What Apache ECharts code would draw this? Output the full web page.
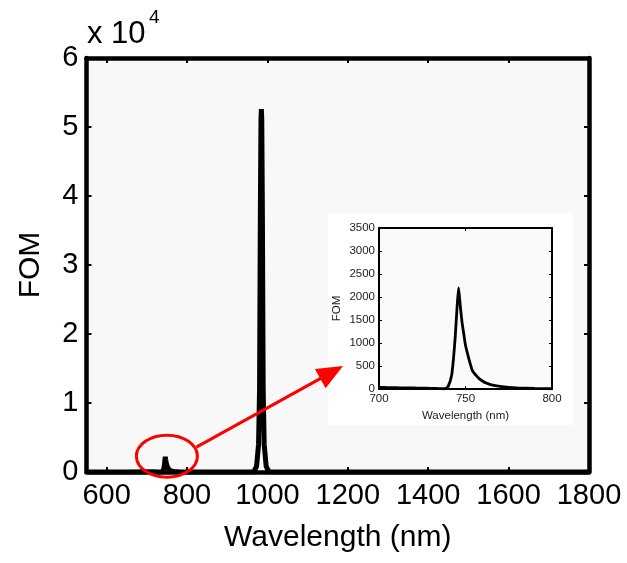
<!DOCTYPE html>
<html><head><meta charset="utf-8">
<script src="https://cdn.jsdelivr.net/npm/echarts@6/dist/echarts.min.js"></script>
<style>html,body{margin:0;padding:0;background:#fff}#c{width:627px;height:563px}</style>
</head><body><div id="c"></div>
<script>
// ---- data ----
const xTickValues = [600, 800, 1000, 1200, 1400, 1600, 1800];
const leftWavelength = [550, 600, 650];
const leftFOM = [0, 0, 0];
const insetWavelength = [700, 705, 710, 715, 720, 725, 730, 735, 738, 740, 742, 743, 744, 745, 746, 747, 748, 749, 750, 752, 754, 756, 758, 760, 762, 765, 770, 775, 780, 790, 800];
const insetFOM = [35, 30, 28, 25, 22, 18, 14, 8, 5, 60, 300, 640, 1100, 1700, 2200, 1800, 1450, 1200, 950, 650, 400, 300, 220, 170, 130, 90, 55, 35, 25, 12, 5];
const peakWavelength = [900, 966, 973, 978, 980.5, 982.5, 984, 985, 986, 987.5, 989.5, 992, 997, 1004, 1100, 1200, 1400, 1600, 1800];
const peakFOM = [0, 0, 800, 4000, 12000, 38000, 51000, 52600, 51000, 38000, 12000, 4000, 800, 0, 0, 0, 0, 0, 0];
const yTickLabels = ['0', '1', '2', '3', '4', '5', '6'];

const mainData = [];
leftWavelength.forEach((w, i) => mainData.push([w, leftFOM[i]]));
insetWavelength.forEach((w, i) => mainData.push([w, insetFOM[i]]));
peakWavelength.forEach((w, i) => mainData.push([w, peakFOM[i]]));
const insetData = insetWavelength.map((w, i) => [w, insetFOM[i]]);

const FONT = 'Liberation Sans, Arial, sans-serif';
const plain = v => String(v);
const chart = echarts.init(document.getElementById('c'), null, {renderer: 'canvas'});

function mainX(pos, showLabel) {
  return {
    type: 'value', gridIndex: 0, position: pos, min: 550, max: 1800,
    axisLine: {show: true, onZero: false, lineStyle: {color: '#000', width: 4.5}},
    axisTick: {show: true, inside: true, length: 5, customValues: xTickValues, lineStyle: {color: '#000', width: 2}},
    axisLabel: {show: showLabel, customValues: xTickValues, formatter: plain, fontSize: 29, color: '#000', fontFamily: FONT, margin: 9},
    splitLine: {show: false},
    name: showLabel ? 'Wavelength (nm)' : '', nameLocation: 'middle', nameGap: 51,
    nameTextStyle: {fontSize: 30, color: '#000', fontFamily: FONT}
  };
}
function mainY(pos, showLabel) {
  return {
    type: 'value', gridIndex: 0, position: pos, min: 0, max: 60000, interval: 10000,
    axisLine: {show: true, onZero: false, lineStyle: {color: '#000', width: 4.5}},
    axisTick: {show: true, inside: true, length: 5, lineStyle: {color: '#000', width: 2}},
    axisLabel: {show: showLabel, fontSize: 29, color: '#000', fontFamily: FONT, margin: 8,
      formatter: v => yTickLabels[Math.round(v / 10000)]},
    splitLine: {show: false},
    name: showLabel ? 'FOM' : '', nameLocation: 'middle', nameGap: 41,
    nameTextStyle: {fontSize: 30, color: '#000', fontFamily: FONT}
  };
}
function insetX(pos, showLabel) {
  return {
    type: 'value', gridIndex: 1, position: pos, min: 700, max: 800, interval: 50, z: 5,
    axisLine: {show: true, onZero: false, lineStyle: {color: '#000', width: 2}},
    axisTick: {show: true, inside: true, length: 3, lineStyle: {color: '#000', width: 1}},
    axisLabel: {show: showLabel, formatter: plain, fontSize: 11.5, color: '#222', fontFamily: FONT, margin: 4},
    splitLine: {show: false},
    name: showLabel ? 'Wavelength (nm)' : '', nameLocation: 'middle', nameGap: 21,
    nameTextStyle: {fontSize: 11.5, color: '#222', fontFamily: FONT}
  };
}
function insetY(pos, showLabel) {
  return {
    type: 'value', gridIndex: 1, position: pos, min: 0, max: 3500, interval: 500, z: 5,
    axisLine: {show: true, onZero: false, lineStyle: {color: '#000', width: 2}},
    axisTick: {show: true, inside: true, length: 3, lineStyle: {color: '#000', width: 1}},
    axisLabel: {show: showLabel, formatter: plain, fontSize: 11.5, color: '#222', fontFamily: FONT, margin: 4},
    splitLine: {show: false},
    name: showLabel ? 'FOM' : '', nameLocation: 'middle', nameGap: 36,
    nameTextStyle: {fontSize: 11.5, color: '#222', fontFamily: FONT}
  };
}

chart.setOption({
  animation: false,
  backgroundColor: '#fff',
  grid: [
    {left: 86.5, top: 58, right: 38, bottom: 91, show: true, backgroundColor: '#f8f8f8', borderWidth: 0, z: 0},
    {left: 379, top: 228, right: 75, bottom: 174, show: true, backgroundColor: '#fafafa', borderWidth: 0, z: 3}
  ],
  xAxis: [mainX('bottom', true), mainX('top', false), insetX('bottom', true), insetX('top', false)],
  yAxis: [mainY('left', true), mainY('right', false), insetY('left', true), insetY('right', false)],
  series: [
    {type: 'line', xAxisIndex: 0, yAxisIndex: 0, data: mainData, showSymbol: false, z: 2,
      lineStyle: {color: '#000', width: 5}, itemStyle: {color: '#000'}},
    {type: 'line', xAxisIndex: 2, yAxisIndex: 2, data: insetData, showSymbol: false, z: 6, smooth: 0.2,
      lineStyle: {color: '#000', width: 2.8}, itemStyle: {color: '#000'}}
  ]
});

// annotations anchored to data / grid positions
const c = chart.convertToPixel({gridIndex: 0}, [750, 2300]);
const insetRect = {x: 328, y: 213, w: 245, h: 212};
const start = [c[0] + 29.5, c[1] - 9];
const tip = [insetRect.x + 15, insetRect.y + 153];
const dx = tip[0] - start[0], dy = tip[1] - start[1];
const L = Math.hypot(dx, dy);
const ux = dx / L, uy = dy / L, px = -uy, py = ux;
const headLen = 26, headHalf = 11;
const bx = tip[0] - ux * headLen, by = tip[1] - uy * headLen;

chart.setOption({
  graphic: [
    {type: 'rect', z: 1, silent: true, shape: {x: insetRect.x, y: insetRect.y, width: insetRect.w, height: insetRect.h}, style: {fill: '#ffffff'}},
    {type: 'ellipse', z: 10, silent: true, shape: {cx: c[0], cy: c[1], rx: 30.5, ry: 21}, style: {fill: null, stroke: '#ff0000', lineWidth: 3}},
    {type: 'line', z: 10, silent: true, shape: {x1: start[0], y1: start[1], x2: bx + ux * 2, y2: by + uy * 2}, style: {stroke: '#ff0000', lineWidth: 3}},
    {type: 'polygon', z: 10, silent: true, shape: {points: [tip, [bx + px * headHalf, by + py * headHalf], [bx - px * headHalf, by - py * headHalf]]}, style: {fill: '#ff0000'}},
    {type: 'text', z: 10, silent: true, x: 87, y: 19, style: {text: 'x 10', fontSize: 31, fontFamily: FONT, fill: '#000', verticalAlign: 'top'}},
    {type: 'text', z: 10, silent: true, x: 149, y: 8, style: {text: '4', fontSize: 19, fontFamily: FONT, fill: '#000', verticalAlign: 'top'}}
  ]
});
</script></body></html>
